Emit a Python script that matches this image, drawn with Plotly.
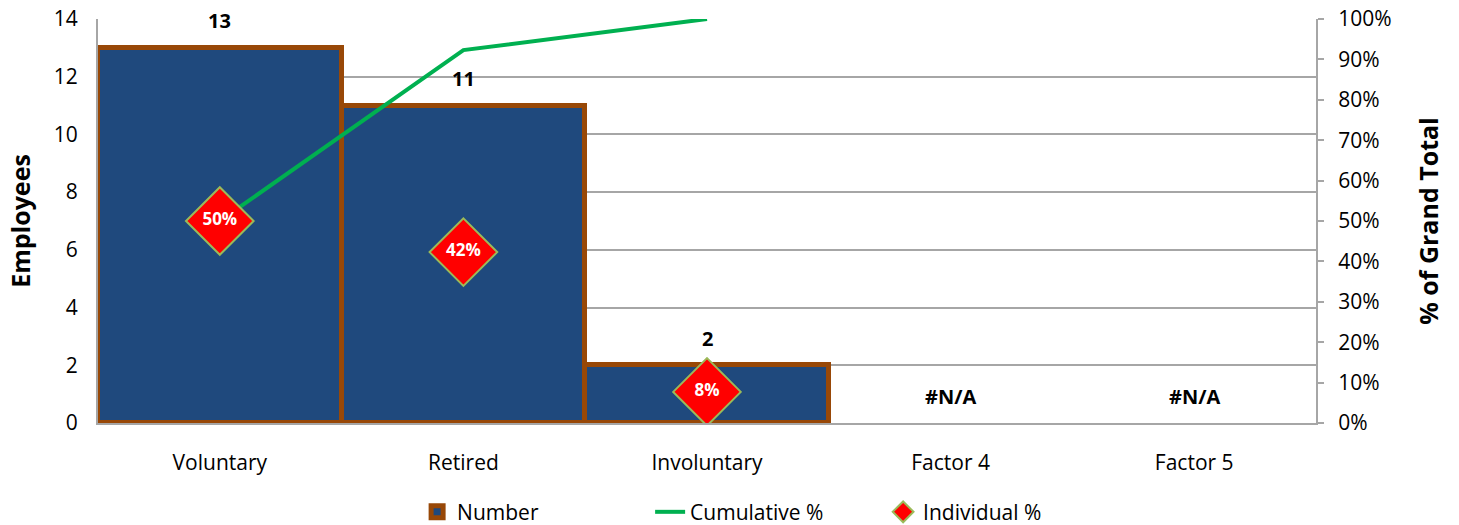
import plotly.graph_objects as go

categories = ["Voluntary", "Retired", "Involuntary", "Factor 4", "Factor 5"]
employees = [13, 11, 2, None, None]
cumulative_pct = [0.50, 0.923, 1.0, None, None]
individual_pct = [0.50, 0.423, 0.077, None, None]
count_labels = ["13", "11", "2", "#N/A", "#N/A"]
pct_labels = ["50%", "42%", "8%", "", ""]

FONT = "Open Sans"
GRID = "#a6a6a6"
TICK_SIZE = 21

fig = go.Figure()

fig.add_trace(go.Bar(
    x=categories, y=employees, name="Number",
    marker=dict(color="#1F497D", line=dict(color="#984807", width=5)),
    yaxis="y",
))

fig.add_trace(go.Scatter(
    x=categories, y=cumulative_pct, name="Cumulative %",
    mode="lines", line=dict(color="#00B050", width=4),
    yaxis="y2",
))

fig.add_trace(go.Scatter(
    x=categories, y=individual_pct, name="Individual %",
    mode="markers+text", text=pct_labels, textposition="middle center",
    textfont=dict(color="white", size=17, family=FONT, weight="bold"),
    marker=dict(symbol="diamond", size=52, color="#FF0000",
                line=dict(color="#9BBB59", width=2)),
    yaxis="y2",
))

# count labels sit above each bar (or above the baseline when empty)
for cat, val, lab in zip(categories, employees, count_labels):
    fig.add_annotation(
        x=cat, y=val if val is not None else 0, yref="y",
        text=lab, showarrow=False, yshift=27,
        font=dict(size=20, family=FONT, color="black", weight="bold"),
    )

fig.update_layout(
    width=1459, height=525,
    margin=dict(l=98, r=143, t=19, b=102, autoexpand=False),
    plot_bgcolor="white", paper_bgcolor="white",
    bargap=0,
    font=dict(family=FONT, size=TICK_SIZE, color="black"),
    showlegend=True,
    legend=dict(orientation="h", x=0.262, xanchor="left", y=-0.17, yanchor="top",
                font=dict(size=TICK_SIZE, family=FONT),
                entrywidth=188, entrywidthmode="pixels",
                traceorder="normal"),
    xaxis=dict(
        range=[-0.5, 4.5], showline=True, linecolor=GRID, linewidth=2,
        showgrid=False, ticks="", tickfont=dict(size=TICK_SIZE),
        ticklabelstandoff=20,
    ),
    yaxis=dict(
        range=[0, 14], dtick=2, showline=True, linecolor=GRID, linewidth=2,
        showgrid=True, gridcolor=GRID, gridwidth=1.5, ticks="",
        zeroline=False, ticklabelstandoff=14,
        title=dict(text="Employees", font=dict(size=25, family=FONT, weight="bold"),
                   standoff=16),
        tickfont=dict(size=TICK_SIZE),
    ),
    yaxis2=dict(
        range=[0, 1], dtick=0.1, tickformat=".0%", overlaying="y", side="right",
        showline=True, linecolor=GRID, linewidth=2, showgrid=False,
        ticks="outside", ticklen=6, tickwidth=2, tickcolor=GRID, zeroline=False,
        ticklabelstandoff=10,
        title=dict(text="% of Grand Total", font=dict(size=25, family=FONT, weight="bold"),
                   standoff=30),
        tickfont=dict(size=TICK_SIZE),
    ),
)

fig.write_html("out.html")
